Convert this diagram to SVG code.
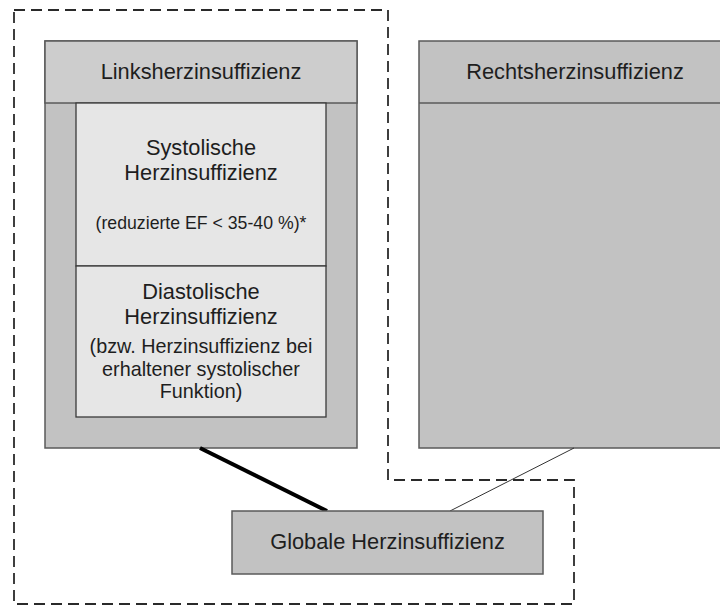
<svg xmlns="http://www.w3.org/2000/svg" width="720" height="606" viewBox="0 0 720 606">
<style>
  .t{font-family:"Liberation Sans",Arial,sans-serif;fill:#1e1e1e;text-anchor:middle}
  .big{font-size:21.8px}
  .mid{font-size:19.8px}
  .sm{font-size:17.7px}
  .box{stroke:#5a5a5a;stroke-width:1.5}
  .outer{fill:#c2c2c2}
  .hdr{fill:#cdcdcd}
  .inner{fill:#e6e6e6;stroke:#3a3a3a;stroke-width:1.3}
</style>
<rect width="720" height="606" fill="#ffffff"/>
<g id="group-boundary">
  <path d="M14,10 H388 V480 H574 V604 H14 Z" fill="none" stroke="#2a2a2a" stroke-width="1.8" stroke-dasharray="11,6"/>
</g>
<g id="links">
  <rect class="box outer" x="45" y="41" width="312" height="407"/>
  <rect class="box hdr" x="45" y="41" width="312" height="62"/>
  <text class="t big" x="201" y="79">Linksherzinsuffizienz</text>
</g>
<g id="systolisch">
  <rect class="inner" x="76" y="103" width="250" height="163"/>
  <text class="t big" x="201" y="155">Systolische</text>
  <text class="t big" x="201" y="180">Herzinsuffizienz</text>
  <text class="t sm" x="201" y="229">(reduzierte EF &lt; 35-40 %)*</text>
</g>
<g id="diastolisch">
  <rect class="inner" x="76" y="266" width="250" height="151"/>
  <text class="t big" x="201" y="299">Diastolische</text>
  <text class="t big" x="201" y="324">Herzinsuffizienz</text>
  <text class="t mid" x="201" y="353">(bzw. Herzinsuffizienz bei</text>
  <text class="t mid" x="201" y="376">erhaltener systolischer</text>
  <text class="t mid" x="201" y="398">Funktion)</text>
</g>
<g id="rechts">
  <rect class="box outer" x="419" y="41" width="312" height="407"/>
  <line x1="419" y1="103" x2="731" y2="103" stroke="#5a5a5a" stroke-width="1.5"/>
  <text class="t big" x="575" y="79">Rechtsherzinsuffizienz</text>
</g>
<g id="connectors">
  <line x1="200" y1="448" x2="327" y2="511" stroke="#000" stroke-width="4"/>
  <line x1="574" y1="448" x2="450" y2="511" stroke="#333" stroke-width="1"/>
</g>
<g id="global">
  <rect class="box outer" x="232" y="511" width="311" height="63"/>
  <text class="t big" x="387.5" y="549">Globale Herzinsuffizienz</text>
</g>
</svg>
